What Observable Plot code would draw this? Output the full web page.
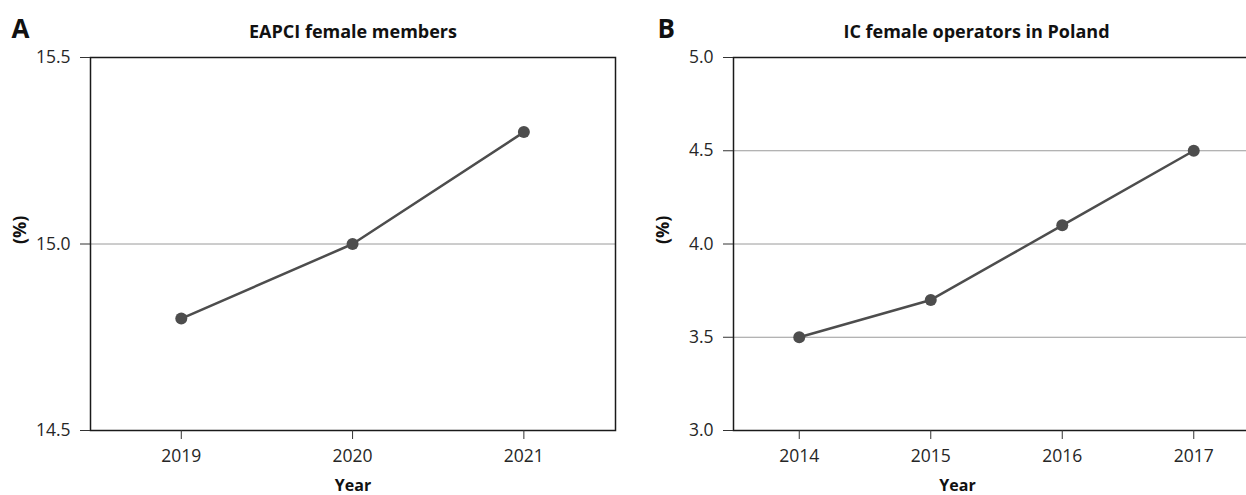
<!DOCTYPE html>
<html>
<head>
<meta charset="utf-8">
<script src="https://cdn.jsdelivr.net/npm/d3@7"></script>
<script src="https://cdn.jsdelivr.net/npm/@observablehq/plot@0.6"></script>
<style>
  html, body { margin: 0; padding: 0; background: #fff; overflow: hidden; }
  #wrap { position: relative; width: 1246px; height: 495px; overflow: hidden; }
  #wrap > div { position: absolute; top: 0; width: 640px; height: 495px; }
  #wrap svg { max-width: none !important; display: block; }
  #wrap svg g[aria-label$="tick label"] { font-size: 17.5px !important; fill: #262626 !important; }
  #wrap svg g[aria-label$="tick label"] text { fill: #262626 !important; }
  #pa { left: 0px; }
  #pb { left: 640px; }
</style>
</head>
<body>
<div id="wrap"><div id="pa"></div><div id="pb"></div></div>
<script>
// Panel A data
const yearsA = [2019, 2020, 2021];
const valuesA = [14.8, 15.0, 15.3];
const yTicksA = [14.5, 15.0, 15.5];
const gridA = [15.0];
const titleA = "EAPCI female members";

// Panel B data
const yearsB = [2014, 2015, 2016, 2017];
const valuesB = [3.5, 3.7, 4.1, 4.5];
const yTicksB = [3.0, 3.5, 4.0, 4.5, 5.0];
const gridB = [3.5, 4.0, 4.5];
const titleB = "IC female operators in Poland";

const yLabel = "(%)";
const xLabel = "Year";

const font = "'Open Sans', 'Noto Sans', sans-serif";
const ink = "#4d4d4d";

function panel({years, values, yTicks, grid, title, letter, xDomain, yDomain, width, mL, mR, titleDx, yearDx, letterDx}) {
  const data = years.map((y, i) => ({year: y, value: values[i]}));
  return Plot.plot({
    width, height: 495,
    marginLeft: mL, marginRight: mR, marginTop: 57, marginBottom: 65,
    style: {fontFamily: font, fontSize: "16px", color: "#222", background: "transparent", overflow: "visible"},
    x: {domain: xDomain, axis: null},
    y: {domain: yDomain, axis: null},
    marks: [
      Plot.gridY(grid, {stroke: "#9a9a9a", strokeOpacity: 1, strokeWidth: 1}),
      Plot.frame({stroke: "#1a1a1a", strokeWidth: 1.5}),
      Plot.axisY({ticks: yTicks, tickSize: 10, tickPadding: 10, tickFormat: d => d.toFixed(1), label: null, fontSize: 17, fill: "#262626", stroke: "#333"}),
      Plot.axisX({ticks: years, tickSize: 9, tickPadding: 10, tickFormat: d => String(d), label: null, fontSize: 17, fill: "#262626", stroke: "#333"}),
      Plot.line(data, {x: "year", y: "value", stroke: ink, strokeWidth: 2.5}),
      Plot.dot(data, {x: "year", y: "value", r: 6, fill: ink, stroke: "none"}),
      Plot.text([title], {frameAnchor: "top", dy: -25, dx: titleDx, fontSize: 18, fontWeight: "bold", fill: "#111", lineAnchor: "middle"}),
      Plot.text([xLabel], {frameAnchor: "bottom", dy: 55, dx: yearDx, fontSize: 16, fontWeight: "bold", fill: "#111", lineAnchor: "middle"}),
      Plot.text([yLabel], {frameAnchor: "left", dx: -70, rotate: -90, fontSize: 18, fontWeight: "bold", fill: "#111"}),
      Plot.text([letter], {frameAnchor: "top-left", dx: letterDx, dy: -28, fontSize: 26, fontWeight: "bold", fill: "#111", textAnchor: "start", lineAnchor: "middle"})
    ]
  });
}

document.getElementById("pa").append(panel({
  years: yearsA, values: valuesA, yTicks: yTicksA, grid: gridA, title: titleA, letter: "A",
  xDomain: [2018.47, 2021.535], yDomain: [14.5, 15.5], width: 640, mL: 90, mR: 25,
  titleDx: 0, yearDx: 0, letterDx: -79
}));
document.getElementById("pb").append(panel({
  years: yearsB, values: valuesB, yTicks: yTicksB, grid: gridB, title: titleB, letter: "B",
  xDomain: [2013.5, 2017.5], yDomain: [3.0, 5.0], width: 640, mL: 93, mR: 21,
  titleDx: -20, yearDx: -39, letterDx: -76
}));
</script>
</body>
</html>
